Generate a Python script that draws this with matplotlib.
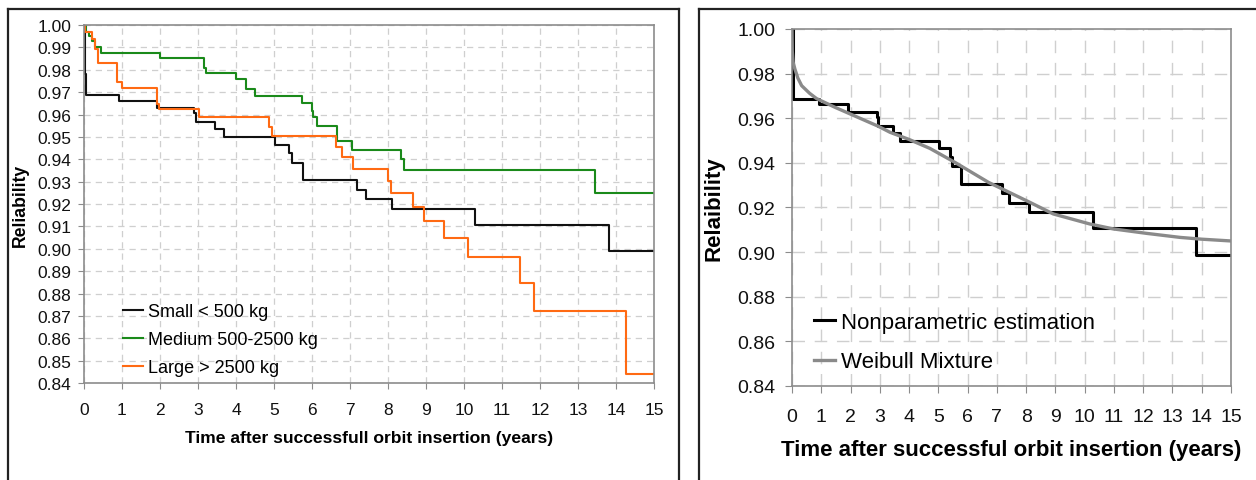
import matplotlib
matplotlib.use("Agg")
import matplotlib.pyplot as plt
from matplotlib.lines import Line2D
import numpy as np

plt.rcParams['font.family'] = ['Liberation Sans', 'DejaVu Sans']

# Kaplan-Meier style reliability estimates by spacecraft mass class
small_t = [0, 0.02, 0.05, 0.92, 1.91, 2.90, 2.94, 3.45, 3.69, 5.03, 5.39, 5.48,
           5.76, 7.19, 7.41, 8.11, 10.29, 13.82, 15]
small_r = [1.0, 0.978, 0.9687, 0.9662, 0.9628, 0.9605, 0.9565, 0.9535, 0.9500,
           0.9465, 0.9426, 0.9385, 0.9307, 0.9264, 0.9222, 0.9178, 0.9106,
           0.8989, 0.8989]

medium_t = [0, 0.05, 0.12, 0.2, 0.3, 0.45, 2.0, 3.15, 3.21, 3.99, 4.26, 4.5,
            5.73, 5.99, 6.03, 6.14, 6.67, 7.06, 8.33, 8.43, 13.45, 15]
medium_r = [1.0, 0.997, 0.995, 0.993, 0.990, 0.9873, 0.9853, 0.9806, 0.9785,
            0.9759, 0.9714, 0.9684, 0.9651, 0.9617, 0.9587, 0.955, 0.948,
            0.9441, 0.940, 0.9353, 0.9248, 0.9248]

large_t = [0, 0.03, 0.2, 0.29, 0.36, 0.86, 0.99, 1.91, 1.98, 3.03, 4.86, 4.94,
           6.63, 6.78, 7.07, 8.01, 8.07, 8.67, 8.96, 9.47, 10.10, 11.47, 11.85,
           14.25, 15]
large_r = [1.0, 0.9967, 0.9937, 0.9893, 0.983, 0.9747, 0.9717, 0.9647, 0.9625,
           0.9587, 0.9543, 0.9505, 0.9453, 0.9409, 0.9356, 0.9304, 0.9248,
           0.9185, 0.9123, 0.9048, 0.8965, 0.8847, 0.8723, 0.844, 0.844]

# Fitted Weibull mixture for the whole population
weibull_t = [0, 0.01, 0.04, 0.1, 0.2, 0.33, 0.6, 0.84, 1.47, 2.2, 2.95, 3.35,
             4.0, 4.71, 5.57, 6.71, 7.5, 8.13, 8.93, 10.18, 10.98, 12.12,
             13.26, 14.0, 15.0]
weibull_r = [1.0, 0.99, 0.985, 0.982, 0.978, 0.9746, 0.9712, 0.9688, 0.9649,
             0.9607, 0.9564, 0.9537, 0.9505, 0.9465, 0.9402, 0.9313, 0.9263,
             0.9223, 0.9171, 0.9126, 0.9104, 0.9084, 0.9066, 0.9058, 0.9050]

left_labels = ["Small < 500 kg", "Medium 500-2500 kg", "Large > 2500 kg"]
right_labels = ["Nonparametric estimation", "Weibull Mixture"]
x_ticks = list(range(0, 16))
left_yticks = [round(0.84 + 0.01 * i, 2) for i in range(17)]
right_yticks = [round(0.84 + 0.02 * i, 2) for i in range(9)]

W, H = 1256, 481
fig = plt.figure(figsize=(W / 100, H / 100), dpi=100)

def fx(px):
    return px / W

def fy(py):
    return 1 - py / H

# Panel frames
frame_kw = dict(color="#222222", lw=1.6, transform=fig.transFigure, clip_on=False)
fig.add_artist(Line2D([fx(8), fx(8)], [fy(10), 0], **frame_kw))
fig.add_artist(Line2D([fx(8), fx(679)], [fy(10), fy(10)], **frame_kw))
fig.add_artist(Line2D([fx(679), fx(679)], [fy(10), 0], **frame_kw))
fig.add_artist(Line2D([fx(699), fx(699)], [fy(10), 0], **frame_kw))
fig.add_artist(Line2D([fx(699), 1], [fy(10), fy(10)], **frame_kw))

spine_c = "#8c8c8c"
grid_c = "#cfcfcf"

# ---- left panel ----
ax1 = fig.add_axes([fx(84), fy(384), (654 - 84) / W, (384 - 26) / H])
ax1.step(small_t, small_r, where="post", color="#111111", lw=1.5, label=left_labels[0])
ax1.step(medium_t, medium_r, where="post", color="#1a8a1a", lw=1.5, label=left_labels[1])
ax1.step(large_t, large_r, where="post", color="#ff6a13", lw=1.5, label=left_labels[2])
ax1.set_xlim(0, 15)
ax1.set_ylim(0.84, 1.00)
ax1.set_xticks(x_ticks)
ax1.set_yticks(left_yticks)
ax1.set_yticklabels([f"{v:.2f}" for v in left_yticks])
ax1.grid(True, color=grid_c, lw=0.9, linestyle=(0, (5, 4)))
ax1.set_axisbelow(True)
for s in ax1.spines.values():
    s.set_color(spine_c)
    s.set_linewidth(1.2)
ax1.tick_params(axis="x", length=4, color=spine_c, pad=10, labelsize=12.5, labelcolor="#111111")
ax1.tick_params(axis="y", length=4, color=spine_c, pad=5, labelsize=12.5, labelcolor="#111111")
ax1.set_xlabel("Time after successfull orbit insertion (years)", fontsize=12.6,
               fontweight="bold", labelpad=9)
ax1.set_ylabel("Reliability", fontsize=12.7, fontweight="bold", labelpad=6)
leg1 = ax1.legend(loc="upper left", bbox_to_anchor=(0.069, 0.2235), frameon=False,
                  fontsize=13, handlelength=1.1, handletextpad=0.25,
                  labelspacing=0.61, borderpad=0, borderaxespad=0)

# ---- right panel ----
ax2 = fig.add_axes([fx(792), fy(387), (1231 - 792) / W, (387 - 30) / H])
ax2.step(small_t, small_r, where="post", color="#000000", lw=2.2, label=right_labels[0],
         zorder=2)
ax2.plot(weibull_t, weibull_r, color="#8a8a8a", lw=2.4, label=right_labels[1], zorder=3)
ax2.set_xlim(0, 15)
ax2.set_ylim(0.84, 1.00)
ax2.set_xticks(x_ticks)
ax2.set_yticks(right_yticks)
ax2.set_yticklabels([f"{v:.2f}" for v in right_yticks])
ax2.grid(True, color=grid_c, lw=1.0, linestyle=(0, (9, 7)))
ax2.set_axisbelow(True)
for s in ax2.spines.values():
    s.set_color(spine_c)
    s.set_linewidth(1.2)
ax2.tick_params(axis="x", length=5, color=spine_c, pad=11, labelsize=14, labelcolor="#111111")
ax2.tick_params(axis="y", length=5, color=spine_c, pad=7, labelsize=14, labelcolor="#111111")
ax2.set_xlabel("Time after successful orbit insertion (years)", fontsize=16,
               fontweight="bold", labelpad=10)
ax2.set_ylabel("Relaibility", fontsize=16, fontweight="bold", labelpad=9)
leg2 = ax2.legend(loc="upper left", bbox_to_anchor=(0.05, 0.207), frameon=False,
                  fontsize=16, handlelength=0.95, handletextpad=0.25,
                  labelspacing=0.82, borderpad=0, borderaxespad=0)

fig.savefig("out.png", dpi=100)
